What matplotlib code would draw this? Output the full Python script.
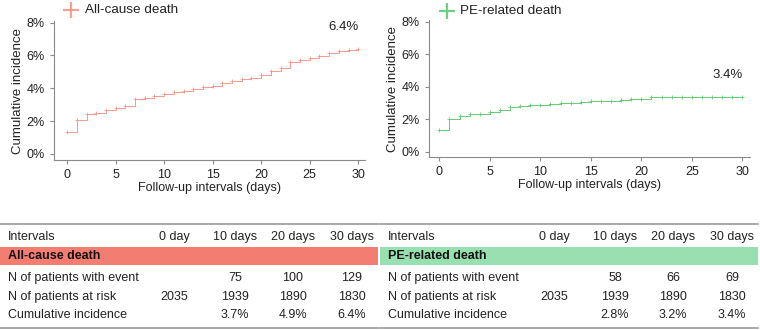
import matplotlib
matplotlib.use("Agg")
import matplotlib.pyplot as plt
from matplotlib.patches import Rectangle

plt.rcParams['font.family'] = ['Liberation Sans', 'DejaVu Sans']

days = list(range(0, 31))
allcause = [1.34, 2.04, 2.42, 2.48, 2.65, 2.82, 2.95, 3.32, 3.42, 3.55, 3.65, 3.75,
            3.85, 3.95, 4.05, 4.15, 4.33, 4.45, 4.58, 4.65, 4.82, 5.05, 5.25, 5.62,
            5.75, 5.85, 5.95, 6.15, 6.25, 6.32, 6.4]
pe_related = [1.36, 2.0, 2.22, 2.3, 2.36, 2.45, 2.55, 2.78, 2.83, 2.88, 2.88, 2.93,
              2.98, 3.02, 3.07, 3.1, 3.15, 3.15, 3.2, 3.25, 3.27, 3.36, 3.37, 3.37,
              3.38, 3.4, 3.4, 3.4, 3.4, 3.4, 3.4]
series_names = ["All-cause death", "PE-related death"]
end_labels = ["6.4%", "3.4%"]
yticks = [0, 2, 4, 6, 8]
xticks = [0, 5, 10, 15, 20, 25, 30]

col_headers = ["Intervals", "0 day", "10 days", "20 days", "30 days"]
row_labels = ["N of patients with event", "N of patients at risk", "Cumulative incidence"]
table_allcause = [["", "75", "100", "129"],
                  ["2035", "1939", "1890", "1830"],
                  ["", "3.7%", "4.9%", "6.4%"]]
table_pe = [["", "58", "66", "69"],
            ["2035", "1939", "1890", "1830"],
            ["", "2.8%", "3.2%", "3.4%"]]

line_colors = ["#F49A8D", "#62CC74"]
legend_colors = ["#F7A092", "#6ED07E"]
band_colors = ["#F47D72", "#98E0B0"]
W, H = 760, 330
fig = plt.figure(figsize=(7.6, 3.3), dpi=100)

axes_px = [(54, 365, 21, 160, (-1.35, 30.7), (-0.37, 8.1)),
           (429, 750, 20, 157, (-1.02, 30.75), (-0.31, 8.1))]
series = [allcause, pe_related]
gray = "#8a8a8a"
fs = 9

for i, (x0, x1, y0, y1, xl, yl) in enumerate(axes_px):
    ax = fig.add_axes([x0 / W, 1 - y1 / H, (x1 - x0) / W, (y1 - y0) / H])
    ax.step(days, series[i], where='post', color=line_colors[i], lw=0.7)
    ax.plot(days, series[i], ls='none', marker='+', ms=3.5, mew=0.6, color=line_colors[i])
    ax.set_xlim(*xl)
    ax.set_ylim(*yl)
    ax.set_xticks(xticks)
    ax.set_yticks(yticks)
    ax.set_yticklabels([f"{v}%" for v in yticks])
    for s in ['top', 'right']:
        ax.spines[s].set_visible(False)
    for s in ['left', 'bottom']:
        ax.spines[s].set_color(gray)
        ax.spines[s].set_linewidth(0.8)
    ax.tick_params(colors=gray, labelcolor="#222222", labelsize=fs, length=3, width=0.8)
    ax.set_xlabel("Follow-up intervals (days)", fontsize=fs, color="#222222", labelpad=1)
    ax.set_ylabel("Cumulative incidence", fontsize=fs + 0.5, color="#222222", labelpad=2)
    ax.text(days[-1], series[i][-1] + 0.95, end_labels[i], ha='right', va='bottom',
            fontsize=fs + 0.5, color="#222222")
    ax.patch.set_alpha(0)

# overlay in pixel coordinates
ov = fig.add_axes([0, 0, 1, 1])
ov.set_xlim(0, W)
ov.set_ylim(H, 0)
ov.axis('off')

# legends
leg_pos = [(71, 10, 85), (447, 11, 460)]
for i, (mx, my, tx) in enumerate(leg_pos):
    ov.plot([mx], [my], marker='+', ms=12, mew=1.6, color=legend_colors[i])
    ov.text(tx, my, series_names[i], va='center', ha='left', fontsize=fs + 0.7, color="#222222")

# tables
tables = [table_allcause, table_pe]
for k, x_off in enumerate([0, 380]):
    tw = 378
    ov.plot([x_off, x_off + tw], [224, 224], color="#999999", lw=1.2)
    ov.plot([x_off, x_off + tw], [328, 328], color="#999999", lw=1.2)
    ov.add_patch(Rectangle((x_off, 247), tw, 18, color=band_colors[k], lw=0))
    col_x = [x_off + 8, x_off + 174, x_off + 235, x_off + 293, x_off + 352]
    ov.text(col_x[0], 237, col_headers[0], ha='left', va='center', fontsize=fs, color="#222222")
    for j in range(1, 5):
        ov.text(col_x[j], 237, col_headers[j], ha='center', va='center', fontsize=fs, color="#222222")
    ov.text(col_x[0], 256, series_names[k], ha='left', va='center', fontsize=fs,
            fontweight='bold', color="#111111")
    row_y = [278, 297, 315]
    for r, lab in enumerate(row_labels):
        ov.text(col_x[0], row_y[r], lab, ha='left', va='center', fontsize=fs, color="#222222")
        for j, val in enumerate(tables[k][r]):
            ov.text(col_x[j + 1], row_y[r], val, ha='center', va='center', fontsize=fs, color="#222222")

fig.savefig("out.png", dpi=100)
